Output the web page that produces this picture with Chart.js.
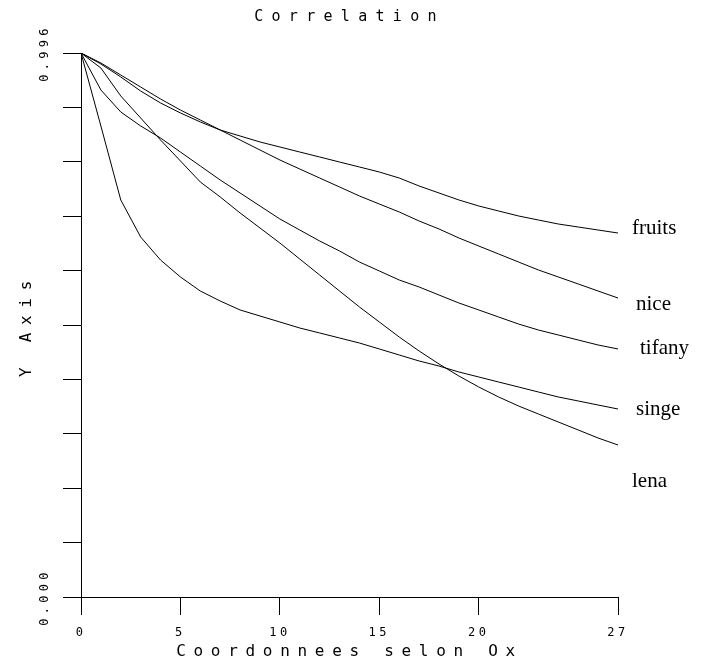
<!DOCTYPE html>
<html>
<head>
<meta charset="utf-8">
<script src="https://cdn.jsdelivr.net/npm/chart.js@4.4.1/dist/chart.umd.min.js"></script>
<style>
html,body{margin:0;padding:0;background:#fff;overflow:hidden}
canvas{display:block}
</style>
</head>
<body>
<canvas id="c" width="701" height="666"></canvas>
<script>
// ---- data ----
const chartTitle = 'Correlation';
const xAxisTitle = 'Coordonnees selon Ox';
const yAxisTitle = 'Y Axis';
const xValues = [0,1,2,3,4,5,6,7,8,9,10,11,12,13,14,15,16,17,18,19,20,21,22,23,24,25,26,27];
const seriesNames = ['fruits','nice','tifany','singe','lena'];
const fruits = [0.996,0.9759,0.9521,0.9264,0.9045,0.8862,0.8697,0.8550,0.8440,0.8331,0.8239,0.8147,0.8056,0.7964,0.7873,0.7781,0.7671,0.7525,0.7397,0.7269,0.7159,0.7067,0.6976,0.6902,0.6829,0.6774,0.6719,0.6664];
const nice   = [0.996,0.9777,0.9557,0.9337,0.9118,0.8916,0.8733,0.8550,0.8367,0.8184,0.8001,0.7836,0.7671,0.7507,0.7342,0.7195,0.7049,0.6884,0.6738,0.6573,0.6426,0.6280,0.6133,0.5987,0.5859,0.5731,0.5602,0.5474];
const tifany = [0.996,0.9283,0.8880,0.8624,0.8404,0.8147,0.7891,0.7635,0.7397,0.7159,0.6921,0.6719,0.6518,0.6335,0.6133,0.5969,0.5804,0.5676,0.5529,0.5383,0.5255,0.5126,0.4998,0.4888,0.4797,0.4705,0.4614,0.4541];
const singe  = [0.996,0.8624,0.7269,0.6591,0.6170,0.5859,0.5602,0.5419,0.5255,0.5145,0.5035,0.4925,0.4834,0.4742,0.4650,0.4541,0.4431,0.4321,0.4229,0.4120,0.4028,0.3936,0.3845,0.3753,0.3662,0.3589,0.3515,0.3442];
const lena   = [0.996,0.9685,0.9173,0.8770,0.8367,0.7983,0.7598,0.7324,0.7031,0.6756,0.6481,0.6188,0.5895,0.5602,0.5310,0.5035,0.4760,0.4504,0.4266,0.4046,0.3845,0.3662,0.3497,0.3350,0.3204,0.3058,0.2911,0.2783];
const xTickValues = [0,5,10,15,20,27];
const xTickLabels = ['0','5','10','15','20','27'];
const yTickValues = [0,0.0996,0.1992,0.2988,0.3984,0.4980,0.5976,0.6972,0.7968,0.8964,0.996];
const yTickLabels = ['0.000','','','','','','','','','','0.996'];

const seriesValues = [fruits, nice, tifany, singe, lena];

// ---- styling helpers ----
const MONO = '"DejaVu Sans Mono", "Liberation Mono", monospace';

const spacingPlugin = {
  id: 'letterSpacing',
  afterUpdate(chart) {
    const wrap = (obj, method, spacing) => {
      if (!obj || obj['__w_' + method]) return;
      const orig = obj[method];
      obj[method] = function (...a) {
        const c = chart.ctx;
        c.save();
        c.letterSpacing = spacing;
        const r = orig.apply(this, a);
        c.restore();
        return r;
      };
      obj['__w_' + method] = true;
    };
    wrap(chart.scales.x, 'drawLabels', '3.5px');
    wrap(chart.scales.y, 'drawLabels', '4.3px');
    wrap(chart.scales.x, 'drawTitle', '7.7px');
    wrap(chart.scales.y, 'drawTitle', '7.7px');
    wrap(chart.titleBlock, 'draw', '8.3px');
  }
};

const seriesLabelPlugin = {
  id: 'seriesLabels',
  afterDatasetsDraw(chart, args, opts) {
    const {ctx, chartArea} = chart;
    const y = chart.scales.y;
    ctx.save();
    ctx.letterSpacing = '0px';
    ctx.font = '21px "Liberation Serif", "Times New Roman", serif';
    ctx.fillStyle = '#000';
    ctx.textAlign = 'left';
    ctx.textBaseline = 'alphabetic';
    chart.data.datasets.forEach((ds, i) => {
      const it = opts.offsets[i];
      const lastY = ds.data[ds.data.length - 1].y;
      ctx.fillText(ds.label, chartArea.right + it.dx, y.getPixelForValue(lastY) + it.dy);
    });
    ctx.restore();
  }
};

const datasets = seriesNames.map((name, i) => ({
  label: name,
  data: xValues.map((x, j) => ({x: x, y: seriesValues[i][j]})),
  borderColor: '#000',
  borderWidth: 1,
  pointRadius: 0,
  tension: 0,
  fill: false
}));

new Chart(document.getElementById('c'), {
  type: 'line',
  data: {datasets},
  plugins: [spacingPlugin, seriesLabelPlugin],
  options: {
    responsive: false,
    animation: false,
    devicePixelRatio: 1,
    layout: {padding: {left: 0, right: 83, top: 0, bottom: 0}},
    plugins: {
      legend: {display: false},
      tooltip: {enabled: false},
      title: {
        display: true,
        text: chartTitle,
        fullSize: false,
        color: '#000',
        font: {family: MONO, size: 15, weight: 'normal'},
        padding: {top: 8, bottom: 27}
      },
      seriesLabels: {
        offsets: [{dx: 14, dy: 1}, {dx: 18, dy: 12}, {dx: 22, dy: 5}, {dx: 18, dy: 6}, {dx: 14, dy: 42}]
      }
    },
    scales: {
      x: {
        type: 'linear',
        min: 0,
        max: 27,
        afterBuildTicks: (s) => { s.ticks = xTickValues.map(v => ({value: v})); },
        afterFit: (s) => { s.height = 69; },
        ticks: {
          autoSkip: false,
          minRotation: 0,
          maxRotation: 0,
          padding: 11,
          color: '#000',
          font: {family: MONO, size: 12},
          callback: (v, i) => xTickLabels[i]
        },
        grid: {drawOnChartArea: false, drawTicks: true, tickLength: 18, color: '#000', lineWidth: 1},
        border: {display: true, color: '#000', width: 1},
        title: {
          display: true,
          text: xAxisTitle,
          color: '#000',
          font: {family: MONO, size: 16},
          padding: {top: 0, bottom: 5}
        }
      },
      y: {
        type: 'linear',
        min: 0,
        max: 0.996,
        afterBuildTicks: (s) => { s.ticks = yTickValues.map(v => ({value: v})); },
        afterFit: (s) => { s.width = 81; },
        ticks: {
          autoSkip: false,
          minRotation: 90,
          maxRotation: 90,
          crossAlign: 'center',
          padding: 0,
          color: '#000',
          font: {family: MONO, size: 12},
          callback: (v, i) => yTickLabels[i]
        },
        grid: {drawOnChartArea: false, drawTicks: true, tickLength: 18, color: '#000', lineWidth: 1},
        border: {display: true, color: '#000', width: 1},
        title: {
          display: true,
          text: yAxisTitle,
          color: '#000',
          font: {family: MONO, size: 16},
          padding: {top: 17, bottom: 0}
        }
      }
    }
  }
});
</script>
</body>
</html>
